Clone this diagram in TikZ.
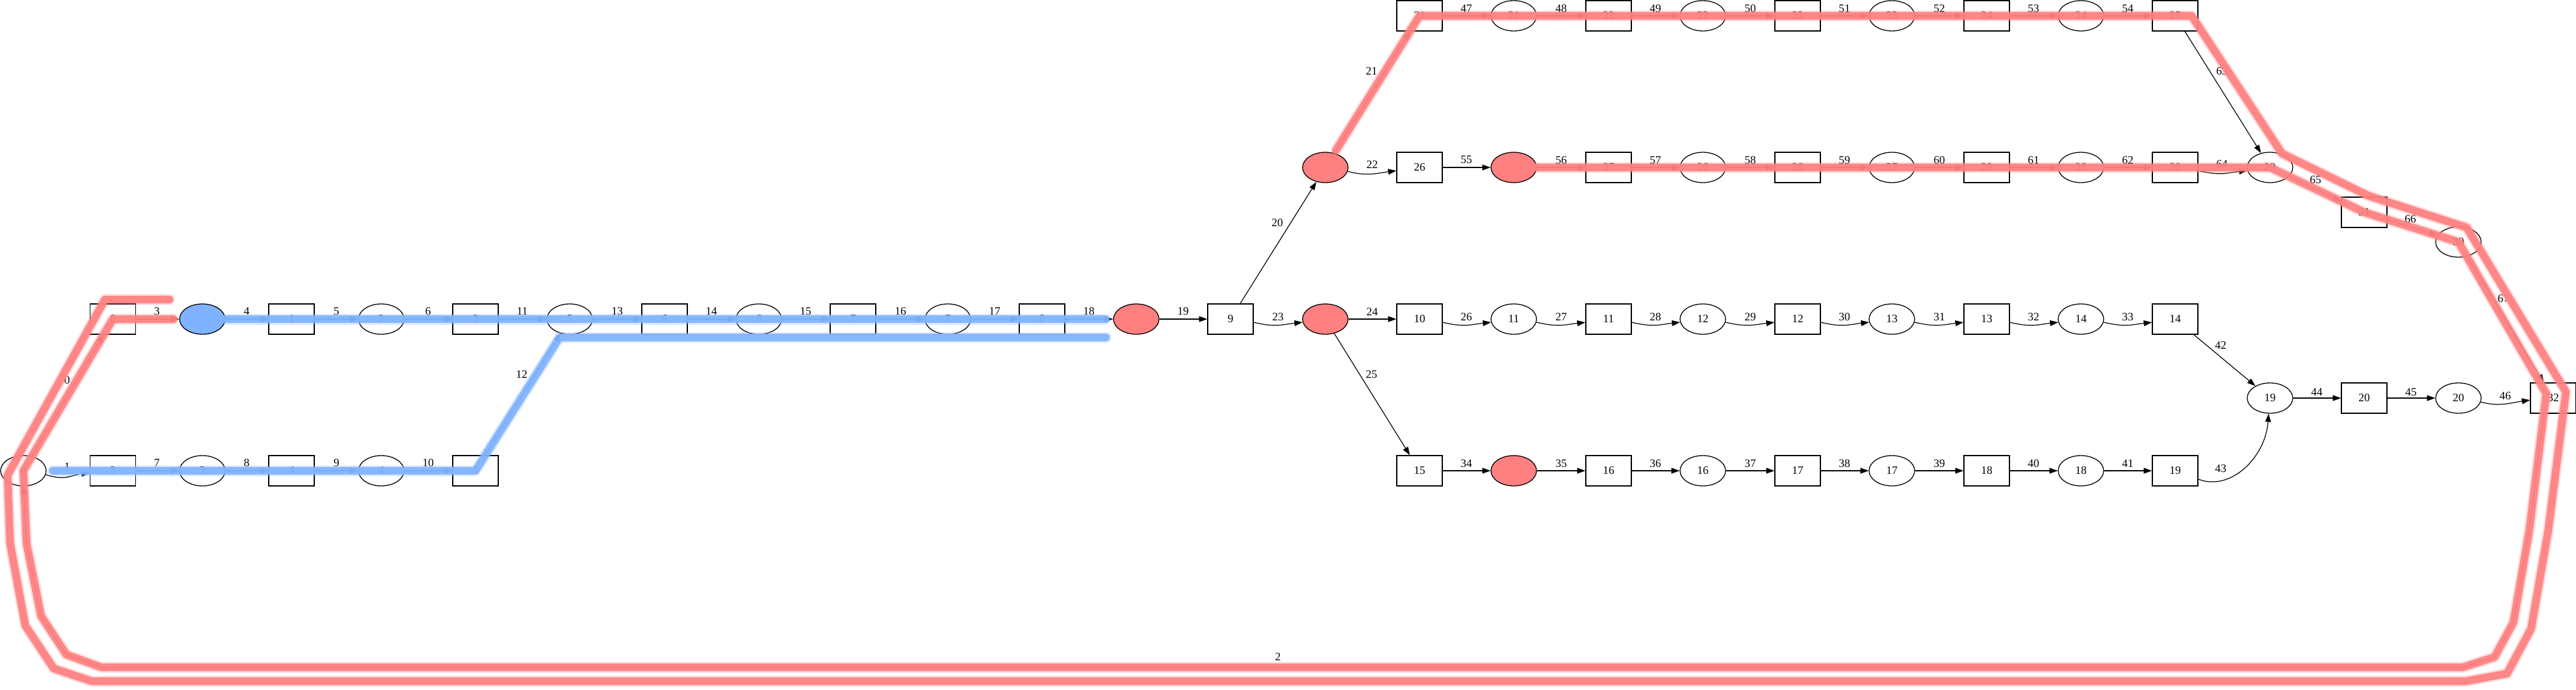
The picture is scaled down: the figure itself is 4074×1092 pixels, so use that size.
\documentclass[tikz,border=0pt]{standalone}
\usepackage{fontspec}
\setmainfont{Liberation Serif}
\usetikzlibrary{arrows.meta,shapes.geometric,calc}
\definecolor{hlr}{RGB}{255,128,128}
\definecolor{hlb}{RGB}{128,179,255}
\begin{document}
\begin{tikzpicture}[x=1pt,y=-1pt,
  place/.style={ellipse,draw,line width=1.3pt,minimum width=72pt,minimum height=48pt,inner sep=0pt,font=\fontsize{18}{18}\selectfont},
  trans/.style={rectangle,draw,line width=1.3pt,minimum width=72pt,minimum height=48pt,inner sep=0pt,font=\fontsize{18}{18}\selectfont},
  redp/.style={place,fill=hlr},
  bluep/.style={place,fill=hlb},
  e/.style={line width=1.2pt,-{Triangle[length=13pt,width=9pt]}},
  lbl/.style={font=\fontsize{18}{18}\selectfont,inner sep=0pt},
  hlred/.style={draw=hlr,line width=12pt,line cap=round,line join=round,opacity=0.92,
    preaction={draw=hlr,line width=17pt,line cap=round,line join=round,opacity=0.3}},
  hlblue/.style={draw=hlb,line width=12pt,line cap=round,line join=round,opacity=0.92,
    preaction={draw=hlb,line width=17pt,line cap=round,line join=round,opacity=0.3}},
]
\useasboundingbox (0,0) rectangle (4074,1092);
% ---------- nodes ----------
\node[place] (p0) at (37,745) {0};
% top-left row
\node[trans] (t0) at (178.5,505) {0};
\node[bluep] (p1) at (320,505) {};
\node[trans] (t1) at (461,505) {1};
\node[place] (p2) at (603,505) {2};
\node[trans] (t2) at (752,505) {2};
\node[place] (p5) at (901,505) {5};
\node[trans] (t6) at (1051,505) {6};
\node[place] (p6) at (1200,505) {6};
\node[trans] (t7) at (1349,505) {7};
\node[place] (p7) at (1499,505) {7};
\node[trans] (t8) at (1648,505) {8};
\node[redp] (p8) at (1797,505) {};
\node[trans] (t9) at (1946,505) {9};
\node[redp] (p9) at (2096,505) {};
\node[trans] (t10) at (2245,505) {10};
\node[place] (p11) at (2394,505) {11};
\node[trans] (t11) at (2544,505) {11};
\node[place] (p12) at (2693,505) {12};
\node[trans] (t12) at (2843,505) {12};
\node[place] (p13) at (2992,505) {13};
\node[trans] (t13) at (3142,505) {13};
\node[place] (p14) at (3291,505) {14};
\node[trans] (t14) at (3440,505) {14};
% bottom-left row
\node[trans] (t3) at (178.5,745) {3};
\node[place] (p3) at (320,745) {3};
\node[trans] (t4) at (461,745) {4};
\node[place] (p4) at (603,745) {4};
\node[trans] (t5) at (752,745) {5};
% row E
\node[trans] (t15) at (2245,745) {15};
\node[redp] (p15) at (2394,745) {};
\node[trans] (t16) at (2544,745) {16};
\node[place] (p16) at (2693,745) {16};
\node[trans] (t17) at (2843,745) {17};
\node[place] (p17) at (2992,745) {17};
\node[trans] (t18) at (3142,745) {18};
\node[place] (p18) at (3291,745) {18};
\node[trans] (t19) at (3440,745) {19};
% row D
\node[place] (p19) at (3590,630) {19};
\node[trans] (t20) at (3739,630) {20};
\node[place] (p20) at (3888,630) {20};
\node[trans] (t32) at (4038,630) {32};
% row A
\node[trans] (t21) at (2245,25) {21};
\node[place] (p21) at (2394,25) {21};
\node[trans] (t22) at (2544,25) {22};
\node[place] (p22) at (2693,25) {22};
\node[trans] (t23) at (2843,25) {23};
\node[place] (p23) at (2992,25) {23};
\node[trans] (t24) at (3142,25) {24};
\node[place] (p24) at (3291,25) {24};
\node[trans] (t25) at (3440,25) {25};
% row B
\node[redp] (p10) at (2096,265) {};
\node[trans] (t26) at (2245,265) {26};
\node[redp] (p25) at (2394,265) {};
\node[trans] (t27) at (2544,265) {27};
\node[place] (p26) at (2693,265) {26};
\node[trans] (t28) at (2843,265) {28};
\node[place] (p27) at (2992,265) {27};
\node[trans] (t29) at (3142,265) {29};
\node[place] (p28) at (3291,265) {28};
\node[trans] (t30) at (3440,265) {30};
\node[place] (p29) at (3590,265) {29};
\node[trans] (t31) at (3739,336) {31};
\node[place] (p30) at (3888,383) {30};
% ---------- edges ----------
\draw[e] (p0) -- (t0);
\draw[e] (p0.-10) .. controls +(30,10) and +(-30,4) .. (t3.185);
\draw[e] (t32.-122) -- (4000,840) -- (3975,985) -- (3945,1040) -- (3895,1056) -- (160,1056) -- (105,1036) -- (65,975) -- (42,860) -- (p0.south);
\draw[e] (t0) -- (p1);
\draw[e] (p1) -- (t1);
\draw[e] (t1) -- (p2);
\draw[e] (p2) -- (t2);
\draw[e] (t3) -- (p3);
\draw[e] (p3) -- (t4);
\draw[e] (t4) -- (p4);
\draw[e] (p4) -- (t5);
\draw[e] (t2) -- (p5);
\draw[e] (t5) -- (p5);
\draw[e] (p5) -- (t6);
\draw[e] (t6) -- (p6);
\draw[e] (p6) -- (t7);
\draw[e] (t7) -- (p7);
\draw[e] (p7) -- (t8);
\draw[e] (t8) -- (p8);
\draw[e] (p8) -- (t9);
\draw[e] (t9) -- (p10);
\draw[e] (p10) -- (t21);
\draw[e] (p10.-10) .. controls +(30,8) and +(-30,4) .. (t26.188);
\draw[e] (t9.-8) .. controls +(35,8) and +(-35,4) .. (p9.188);
\draw[e] (p9) -- (t10);
\draw[e] (p9) -- (t15);
\draw[e] (t10.-8) .. controls +(35,8) and +(-35,4) .. (p11.188);
\draw[e] (p11.-8) .. controls +(35,8) and +(-35,4) .. (t11.188);
\draw[e] (t11.-8) .. controls +(35,8) and +(-35,4) .. (p12.188);
\draw[e] (p12.-8) .. controls +(35,8) and +(-35,4) .. (t12.188);
\draw[e] (t12.-8) .. controls +(35,8) and +(-35,4) .. (p13.188);
\draw[e] (p13.-8) .. controls +(35,8) and +(-35,4) .. (t13.188);
\draw[e] (t13.-8) .. controls +(35,8) and +(-35,4) .. (p14.188);
\draw[e] (p14.-8) .. controls +(35,8) and +(-35,4) .. (t14.188);
\draw[e] (t15) -- (p15);
\draw[e] (p15) -- (t16);
\draw[e] (t16) -- (p16);
\draw[e] (p16) -- (t17);
\draw[e] (t17) -- (p17);
\draw[e] (p17) -- (t18);
\draw[e] (t18) -- (p18);
\draw[e] (p18) -- (t19);
\draw[e] (t14) -- (p19);
\draw[e] (t19.-20) .. controls +(50,20) and +(-5,70) .. (p19.-95);
\draw[e] (p19) -- (t20);
\draw[e] (t20) -- (p20);
\draw[e] (p20.-10) .. controls +(30,8) and +(-30,4) .. (t32.185);
\draw[e] (t21) -- (p21);
\draw[e] (p21) -- (t22);
\draw[e] (t22) -- (p22);
\draw[e] (p22) -- (t23);
\draw[e] (t23) -- (p23);
\draw[e] (p23) -- (t24);
\draw[e] (t24) -- (p24);
\draw[e] (p24) -- (t25);
\draw[e] (t26) -- (p25);
\draw[e] (p25) -- (t27);
\draw[e] (t27) -- (p26);
\draw[e] (p26) -- (t28);
\draw[e] (t28) -- (p27);
\draw[e] (p27) -- (t29);
\draw[e] (t29) -- (p28);
\draw[e] (p28) -- (t30);
\draw[e] (t25) -- (p29);
\draw[e] (t30.-8) .. controls +(35,8) and +(-35,4) .. (p29.188);
\draw[e] (p29) -- (t31);
\draw[e] (t31) -- (p30);
\draw[e] (p30) -- (t32);
% ---------- edge labels ----------
\node[lbl] (l0) at (106,602) {0};
\node[lbl] (l1) at (106,739) {1};
\node[lbl] (l2) at (2021,1040) {2};
\node[lbl] (l3) at (248,493) {3};
\node[lbl] (l4) at (390,493) {4};
\node[lbl] (l5) at (532,493) {5};
\node[lbl] (l6) at (677,493) {6};
\node[lbl] (l7) at (248,733) {7};
\node[lbl] (l8) at (390,733) {8};
\node[lbl] (l9) at (532,733) {9};
\node[lbl] (l10) at (677,733) {10};
\node[lbl] (l11) at (826,493) {11};
\node[lbl] (l12) at (825,593) {12};
\node[lbl] (l13) at (976,493) {13};
\node[lbl] (l14) at (1125,493) {14};
\node[lbl] (l15) at (1274,493) {15};
\node[lbl] (l16) at (1424,493) {16};
\node[lbl] (l17) at (1573,493) {17};
\node[lbl] (l18) at (1722,493) {18};
\node[lbl] (l19) at (1871,493) {19};
\node[lbl] (l20) at (2020,353) {20};
\node[lbl] (l21) at (2169,113) {21};
\node[lbl] (l22) at (2170,261) {22};
\node[lbl] (l23) at (2021,502) {23};
\node[lbl] (l24) at (2170,494) {24};
\node[lbl] (l25) at (2169,593) {25};
\node[lbl] (l26) at (2319,502) {26};
\node[lbl] (l27) at (2469,502) {27};
\node[lbl] (l28) at (2618,502) {28};
\node[lbl] (l29) at (2768,502) {29};
\node[lbl] (l30) at (2917,502) {30};
\node[lbl] (l31) at (3067,502) {31};
\node[lbl] (l32) at (3216,502) {32};
\node[lbl] (l33) at (3365,502) {33};
\node[lbl] (l34) at (2319,734) {34};
\node[lbl] (l35) at (2469,734) {35};
\node[lbl] (l36) at (2618,734) {36};
\node[lbl] (l37) at (2768,734) {37};
\node[lbl] (l38) at (2917,734) {38};
\node[lbl] (l39) at (3067,734) {39};
\node[lbl] (l40) at (3216,734) {40};
\node[lbl] (l41) at (3365,734) {41};
\node[lbl] (l42) at (3512,547) {42};
\node[lbl] (l43) at (3512,742) {43};
\node[lbl] (l44) at (3664,621) {44};
\node[lbl] (l45) at (3813,621) {45};
\node[lbl] (l46) at (3962,627) {46};
\node[lbl] (l47) at (2319,14) {47};
\node[lbl] (l48) at (2469,14) {48};
\node[lbl] (l49) at (2618,14) {49};
\node[lbl] (l50) at (2768,14) {50};
\node[lbl] (l51) at (2917,14) {51};
\node[lbl] (l52) at (3067,14) {52};
\node[lbl] (l53) at (3216,14) {53};
\node[lbl] (l54) at (3365,14) {54};
\node[lbl] (l55) at (2319,253) {55};
\node[lbl] (l56) at (2469,254) {56};
\node[lbl] (l57) at (2618,254) {57};
\node[lbl] (l58) at (2768,254) {58};
\node[lbl] (l59) at (2917,254) {59};
\node[lbl] (l60) at (3067,254) {60};
\node[lbl] (l61) at (3216,254) {61};
\node[lbl] (l62) at (3365,254) {62};
\node[lbl] (l63) at (3514,113) {63};
\node[lbl] (l64) at (3514,260) {64};
\node[lbl] (l65) at (3662,285) {65};
\node[lbl] (l66) at (3812,347) {66};
\node[lbl] (l67) at (3959,473) {67};
% ---------- highlight overlays ----------
\draw[hlblue] (p1.east) -- ($(p8.west)+(-12,0)$);
\draw[hlblue] ($(p0.east)+(10,0)$) -- (t5.center) -- (885,534) -- (1749,534);
\draw[hlred] (p25.east) -- (p29.center) -- (t31.center) -- (p30.center) -- (4027,623) -- (4000,840) -- (3975,985) -- (3945,1040) -- (3895,1056) -- (160,1056) -- (105,1036) -- (65,975) -- (42,860) -- (p0.center) -- (t0.center) -- ($(p1.west)+(-9,0)$);
\draw[hlred] ($(p10)!32pt!(t21)$) -- (t21.center) -- (3466,25) -- (3609,243) -- (3746,310) -- (3901,360) -- (4058,620) -- (4030,840) -- (4003,995) -- (3965,1066) -- (3900,1078) -- (145,1078) -- (85,1058) -- (40,990) -- (16,860) -- (12,752) -- (166,474) -- (268,474);
\end{tikzpicture}
\end{document}
